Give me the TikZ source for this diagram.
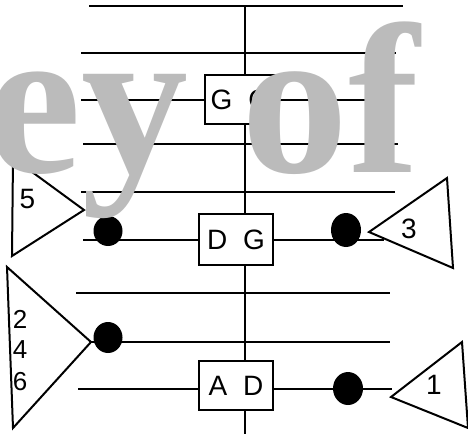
\documentclass[tikz,border=0pt]{standalone}
\usepackage{fontspec}
\setmainfont{Liberation Sans}
\newfontfamily\wmfont{Liberation Serif}
\usetikzlibrary{shapes.geometric}
\definecolor{wmgray}{RGB}{187,187,187}
\tikzset{
  wire/.style={line width=2pt},
  gatebox/.style={draw, line width=2pt, fill=white, inner sep=0pt,
    font=\fontsize{28}{30}\selectfont},
  dotmark/.style={ellipse, fill=black, inner sep=0pt},
  tri/.style={line width=2pt, line join=miter},
  numlabel/.style={inner sep=0pt, font=\fontsize{28}{30}\selectfont},
  smalllabel/.style={inner sep=0pt, font=\fontsize{26}{28}\selectfont},
  watermark/.style={inner sep=0pt, anchor=base west, text=wmgray,
    font=\fontsize{214}{214}\selectfont\wmfont\bfseries}
}
\newcommand{\gapsp}{\hspace{0.57em}}
\begin{document}
\begin{tikzpicture}[x=1pt,y=-1pt]
\useasboundingbox (0,0) rectangle (468,434);
\clip (0,0) rectangle (468,434);
% line end points
\coordinate (a1) at (89,5.5);   \coordinate (b1) at (403,5.5);
\coordinate (a2) at (81,53);    \coordinate (b2) at (396,53);
\coordinate (a3) at (81,100);   \coordinate (b3) at (394,100);
\coordinate (a4) at (83,143.5); \coordinate (b4) at (398,143.5);
\coordinate (a5) at (81,192);   \coordinate (b5) at (395,192);
\coordinate (a6) at (83,240);   \coordinate (b6) at (384,240);
\coordinate (a7) at (76,293);   \coordinate (b7) at (390,293);
\coordinate (b8) at (390,342);
\coordinate (a9) at (78,389);   \coordinate (b9) at (392,389);
\coordinate (vtop) at (244.5,5); \coordinate (vbot) at (244.5,434);
% triangle corners
\coordinate (t5a) at (13,158);  \coordinate (t5tip) at (84,210);  \coordinate (t5b) at (12,256);
\coordinate (t3a) at (447,178); \coordinate (t3tip) at (369,232); \coordinate (t3b) at (453,268);
\coordinate (t2a) at (7,267);   \coordinate (t2tip) at (91,342);  \coordinate (t2b) at (13,428);
\coordinate (t1a) at (462,342); \coordinate (t1tip) at (391,397); \coordinate (t1b) at (468,428);
% wires
\draw[wire] (vtop) -- (vbot);
\draw[wire] (a1) -- (b1);
\draw[wire] (a2) -- (b2);
\draw[wire] (a3) -- (b3);
\draw[wire] (a4) -- (b4);
\draw[wire] (a5) -- (b5);
\draw[wire] (a6) -- (b6);
\draw[wire] (a7) -- (b7);
\draw[wire] (t2tip) -- (b8);
\draw[wire] (a9) -- (b9);
% boxes
\node[gatebox, minimum width=71pt, minimum height=49pt] (GG) at (240.5,99.5) {G\gapsp G};
\node[gatebox, minimum width=74pt, minimum height=51pt] (DG) at (236,239.5) {D\gapsp G};
\node[gatebox, minimum width=74pt, minimum height=49pt] (AD) at (236,385.5) {A\gapsp D};
% dots
\node[dotmark, minimum width=29pt, minimum height=30pt] (d1) at (108,231) {};
\node[dotmark, minimum width=30pt, minimum height=34pt] (d2) at (346,230) {};
\node[dotmark, minimum width=29pt, minimum height=31pt] (d3) at (108,337.5) {};
\node[dotmark, minimum width=30pt, minimum height=33pt] (d4) at (348,388.5) {};
% triangles
\draw[tri] (t5a) -- (t5tip) -- (t5b) -- cycle;
\draw[tri] (t3a) -- (t3tip) -- (t3b) -- cycle;
\draw[tri] (t2a) -- (t2tip) -- (t2b) -- cycle;
\draw[tri] (t1a) -- (t1tip) -- (t1b) -- cycle;
% labels
\node[numlabel] (l5) at (27.5,199) {5};
\node[numlabel] (l3) at (409,228.5) {3};
\node[numlabel] (l1) at (434,385) {1};
\node[smalllabel] (l2) at (20,319) {2};
\node[smalllabel] (l4) at (20,350) {4};
\node[smalllabel] (l6) at (20,382) {6};
% watermark
\node[watermark] (wm) at (-14,172) {ey of};
\end{tikzpicture}
\end{document}
